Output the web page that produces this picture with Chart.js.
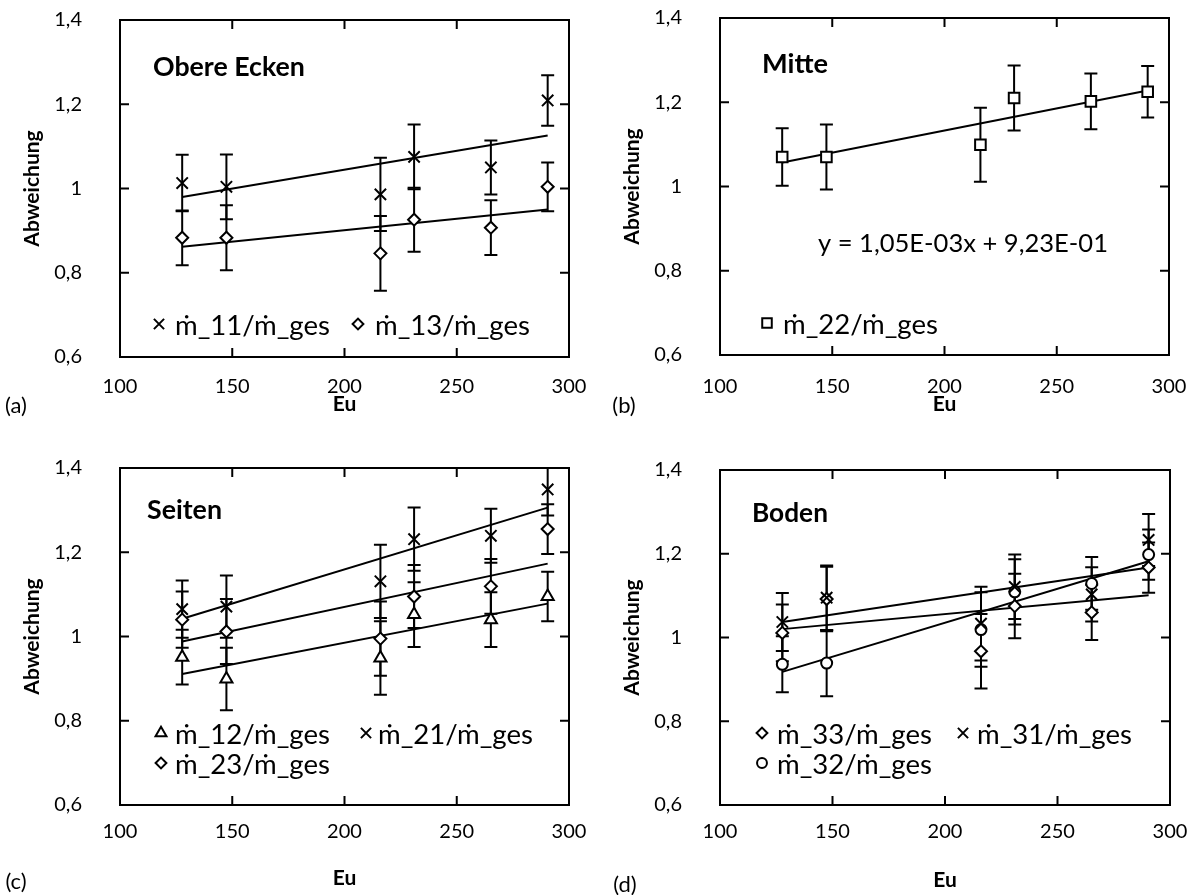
<!DOCTYPE html>
<html><head><meta charset="utf-8">
<script src="https://cdn.jsdelivr.net/npm/chart.js@4.4.1/dist/chart.umd.min.js"></script>
<style>
html,body{margin:0;padding:0;background:#fff;}
#wrap{position:relative;width:1200px;height:895px;overflow:hidden;background:#fff;}
canvas{position:absolute;}
</style></head><body>
<div id="wrap">
<canvas id="pa" width="600" height="447" style="left:0px;top:0px;width:600px;height:447px"></canvas>
<canvas id="pb" width="600" height="447" style="left:600px;top:0px;width:600px;height:447px"></canvas>
<canvas id="pc" width="600" height="448" style="left:0px;top:447px;width:600px;height:448px"></canvas>
<canvas id="pd" width="600" height="448" style="left:600px;top:447px;width:600px;height:448px"></canvas>
</div>
<script>
// ---------------- DATA ----------------
const xTickLabels = ['100', '150', '200', '250', '300'];
const yTickLabels = ['0,6', '0,8', '1', '1,2', '1,4'];
const eu = [127.7, 147.4, 216, 231, 265.2, 290.5];
const trendX = [127.7, 290.5];

// (a) Obere Ecken
const a_m11 = [1.013, 1.004, 0.986, 1.075, 1.050, 1.209];
const a_m11Err = [0.067, 0.077, 0.087, 0.077, 0.064, 0.060];
const a_m13 = [0.883, 0.883, 0.846, 0.926, 0.907, 1.004];
const a_m13Err = [0.065, 0.077, 0.089, 0.076, 0.065, 0.058];
const a_trend11 = [0.980, 1.126];
const a_trend13 = [0.862, 0.950];

// (b) Mitte
const b_m22 = [1.070, 1.070, 1.099, 1.210, 1.202, 1.225];
const b_m22Err = [0.068, 0.077, 0.088, 0.077, 0.066, 0.061];
const b_trend22 = [1.057, 1.228];

// (c) Seiten
const c_m12 = [0.951, 0.899, 0.949, 1.052, 1.040, 1.095];
const c_m12Err = [0.065, 0.074, 0.087, 0.077, 0.065, 0.059];
const c_m21 = [1.065, 1.071, 1.131, 1.231, 1.239, 1.349];
const c_m21Err = [0.068, 0.074, 0.087, 0.075, 0.064, 0.062];
const c_m23 = [1.040, 1.012, 0.995, 1.095, 1.119, 1.255];
const c_m23Err = [0.067, 0.077, 0.088, 0.075, 0.065, 0.059];
const c_trend12 = [0.911, 1.078];
const c_trend21 = [1.042, 1.306];
const c_trend23 = [0.988, 1.173];

// (d) Boden
const d_m33 = [1.011, 1.092, 0.967, 1.075, 1.060, 1.167];
const d_m33Err = [0.068, 0.077, 0.089, 0.077, 0.066, 0.060];
const d_m31 = [1.037, 1.095, 1.033, 1.121, 1.103, 1.233];
const d_m31Err = [0.069, 0.077, 0.088, 0.077, 0.065, 0.062];
const d_m32 = [0.936, 0.939, 1.019, 1.109, 1.129, 1.198];
const d_m32Err = [0.067, 0.079, 0.089, 0.078, 0.063, 0.060];
const d_trend31 = [1.037, 1.167];
const d_trend33 = [1.020, 1.101];
const d_trend32 = [0.918, 1.182];

// ---------------- STYLE / HELPERS ----------------
const FONT = "Lato, 'Noto Sans', 'DejaVu Sans', sans-serif";
Chart.defaults.font.family = FONT;
Chart.defaults.color = '#000';

const MS = { cross: ['crossRot', 8], diamond: ['rectRot', 6], square: ['rect', 7.5], triangle: ['triangle', 7], circle: ['circle', 5.5] };

function pts(vals) { return eu.map((x, i) => ({ x: x, y: vals[i] })); }
function markerDs(label, vals, err, kind) {
  const [style, r] = MS[kind];
  return { label: label, data: pts(vals), err: err, pointStyle: style, pointRadius: r, pointHoverRadius: r,
    pointBorderWidth: 2, pointBorderColor: '#000', pointBackgroundColor: '#fff',
    showLine: false, order: kind === 'cross' ? 0 : 1, marker: kind };
}
function trendDs(vals) {
  return { label: '', data: trendX.map((x, i) => ({ x: x, y: vals[i] })), showLine: true,
    borderColor: '#000', borderWidth: 2, pointRadius: 0, pointHoverRadius: 0, order: 2, isTrend: true };
}

function fitSize(ctx, text, weight, target) {
  ctx.font = weight + ' 100px ' + FONT;
  return 100 * target / ctx.measureText(text).width;
}

const errorBars = {
  id: 'errorBars',
  beforeDatasetsDraw(chart) {
    const { ctx, chartArea: ca, scales } = chart;
    const x = scales.x, y = scales.y;
    ctx.save();
    ctx.beginPath(); ctx.rect(ca.left, ca.top, ca.right - ca.left, ca.bottom - ca.top); ctx.clip();
    ctx.strokeStyle = '#000'; ctx.lineWidth = 2;
    chart.data.datasets.forEach(ds => {
      if (!ds.err) return;
      ds.data.forEach((p, i) => {
        const px = x.getPixelForValue(p.x);
        const y1 = y.getPixelForValue(p.y + ds.err[i]);
        const y2 = y.getPixelForValue(p.y - ds.err[i]);
        ctx.beginPath();
        ctx.moveTo(px, y1); ctx.lineTo(px, y2);
        ctx.moveTo(px - 6.5, y1); ctx.lineTo(px + 6.5, y1);
        ctx.moveTo(px - 6.5, y2); ctx.lineTo(px + 6.5, y2);
        ctx.stroke();
      });
    });
    ctx.restore();
  }
};

const frame = {
  id: 'frame',
  afterDraw(chart) {
    const { ctx, chartArea: ca, scales } = chart;
    const x = scales.x, y = scales.y, L = 9;
    ctx.save();
    ctx.strokeStyle = '#000'; ctx.lineWidth = 2;
    ctx.strokeRect(ca.left, ca.top, ca.right - ca.left, ca.bottom - ca.top);
    ctx.beginPath();
    x.ticks.forEach(t => {
      const px = x.getPixelForValue(t.value);
      ctx.moveTo(px, ca.bottom); ctx.lineTo(px, ca.bottom - L);
      ctx.moveTo(px, ca.top); ctx.lineTo(px, ca.top + L);
    });
    y.ticks.forEach(t => {
      const py = y.getPixelForValue(t.value);
      ctx.moveTo(ca.left, py); ctx.lineTo(ca.left + L, py);
      ctx.moveTo(ca.right, py); ctx.lineTo(ca.right - L, py);
    });
    ctx.stroke();
    ctx.restore();
  }
};

const LEGEND_SAMPLE = '\u1E41_13/\u1E41_ges';

function textPlugin(cfg) {
  return {
    id: 'panelText',
    afterDraw(chart) {
      const ctx = chart.ctx;
      ctx.save();
      ctx.fillStyle = '#000'; ctx.strokeStyle = '#000';
      ctx.textBaseline = 'middle'; ctx.textAlign = 'left';
      let s = fitSize(ctx, cfg.title.text, 'bold', cfg.title.w);
      ctx.font = 'bold ' + s + 'px ' + FONT;
      ctx.fillText(cfg.title.text, cfg.title.x, cfg.title.y);
      if (cfg.eq) {
        s = fitSize(ctx, cfg.eq.text, 'normal', cfg.eq.w);
        ctx.font = 'normal ' + s + 'px ' + FONT;
        ctx.fillText(cfg.eq.text, cfg.eq.x, cfg.eq.y);
      }
      const ls = fitSize(ctx, LEGEND_SAMPLE, 'normal', 155);
      cfg.legend.forEach(it => {
        const ds = chart.data.datasets[it.ds];
        const [style, r] = MS[ds.marker];
        ctx.lineWidth = 2; ctx.fillStyle = '#fff'; ctx.strokeStyle = '#000';
        Chart.helpers.drawPoint(ctx, { pointStyle: style, radius: r * 0.9, rotation: 0, borderWidth: 2 }, it.mx, it.my);
        ctx.fillStyle = '#000';
        ctx.font = 'normal ' + ls + 'px ' + FONT;
        ctx.fillText(ds.label, it.tx, it.my + 2);
      });
      ctx.font = 'normal 22px ' + FONT;
      ctx.textAlign = 'center';
      ctx.fillText(cfg.tag.text, cfg.tag.x, cfg.tag.y);
      ctx.restore();
    }
  };
}

function makePanel(id, datasets, cfg) {
  const ctx = document.getElementById(id).getContext('2d');
  return new Chart(ctx, {
    type: 'scatter',
    data: { datasets: datasets },
    options: {
      responsive: false, animation: false, events: [],
      layout: { autoPadding: false, padding: { left: 0, top: cfg.top, right: cfg.right, bottom: 0 } },
      plugins: { legend: { display: false }, tooltip: { enabled: false } },
      scales: {
        x: {
          type: 'linear', min: 100, max: 300,
          ticks: { stepSize: 50, padding: cfg.xPad, font: { size: 20 }, color: '#000', callback: (v, i) => xTickLabels[i] },
          grid: { display: false, drawTicks: false }, border: { display: false },
          title: { display: true, text: 'Eu', color: '#000', font: { size: 21, weight: 'bold' }, padding: { top: 0, bottom: cfg.euPad } },
          afterFit: (s) => { s.height = cfg.xh; s.paddingLeft = 0; s.paddingRight = 0; s.paddingTop = 0; s.paddingBottom = 0; }
        },
        y: {
          type: 'linear', min: 0.6, max: 1.4,
          ticks: { stepSize: 0.2, padding: 38, font: { size: 20 }, color: '#000', callback: (v, i) => yTickLabels[i] },
          grid: { display: false, drawTicks: false }, border: { display: false },
          title: { display: true, text: 'Abweichung', color: '#000', font: { size: 21, weight: 'bold' }, padding: { top: 20, bottom: 0 } },
          afterFit: (s) => { s.width = 120; s.paddingTop = 0; s.paddingBottom = 0; s.paddingLeft = 0; s.paddingRight = 0; }
        }
      }
    },
    plugins: [errorBars, frame, textPlugin(cfg)]
  });
}

// ---------------- PANELS ----------------
makePanel('pa', [
  markerDs('\u1E41_11/\u1E41_ges', a_m11, a_m11Err, 'cross'),
  markerDs('\u1E41_13/\u1E41_ges', a_m13, a_m13Err, 'diamond'),
  trendDs(a_trend11), trendDs(a_trend13)
], {
  top: 20, right: 31, xh: 90, euPad: 30, xPad: 18,
  title: { text: 'Obere Ecken', x: 153, y: 67, w: 152 },
  legend: [{ ds: 0, mx: 159, my: 324, tx: 175 }, { ds: 1, mx: 358, my: 324, tx: 375 }],
  tag: { text: '(a)', x: 16, y: 406 }
});

makePanel('pb', [
  markerDs('\u1E41_22/\u1E41_ges', b_m22, b_m22Err, 'square'),
  trendDs(b_trend22)
], {
  top: 18, right: 31, xh: 92, euPad: 30, xPad: 20,
  title: { text: 'Mitte', x: 162, y: 64, w: 66 },
  eq: { text: 'y = 1,05E-03x + 9,23E-01', x: 218, y: 244, w: 290 },
  legend: [{ ds: 0, mx: 167, my: 323, tx: 183 }],
  tag: { text: '(b)', x: 24, y: 406 }
});

makePanel('pc', [
  markerDs('\u1E41_12/\u1E41_ges', c_m12, c_m12Err, 'triangle'),
  markerDs('\u1E41_21/\u1E41_ges', c_m21, c_m21Err, 'cross'),
  markerDs('\u1E41_23/\u1E41_ges', c_m23, c_m23Err, 'diamond'),
  trendDs(c_trend12), trendDs(c_trend21), trendDs(c_trend23)
], {
  top: 21, right: 31, xh: 90, euPad: 4, xPad: 15,
  title: { text: 'Seiten', x: 147, y: 63, w: 75 },
  legend: [{ ds: 0, mx: 161, my: 286, tx: 175 }, { ds: 1, mx: 366, my: 286, tx: 378 }, { ds: 2, mx: 161, my: 316, tx: 175 }],
  tag: { text: '(c)', x: 16, y: 435 }
});

makePanel('pd', [
  markerDs('\u1E41_33/\u1E41_ges', d_m33, d_m33Err, 'diamond'),
  markerDs('\u1E41_31/\u1E41_ges', d_m31, d_m31Err, 'cross'),
  markerDs('\u1E41_32/\u1E41_ges', d_m32, d_m32Err, 'circle'),
  trendDs(d_trend31), trendDs(d_trend33), trendDs(d_trend32)
], {
  top: 23, right: 30, xh: 90, euPad: 2, xPad: 15,
  title: { text: 'Boden', x: 152, y: 67, w: 76 },
  legend: [{ ds: 0, mx: 162, my: 286, tx: 177 }, { ds: 1, mx: 363, my: 286, tx: 377 }, { ds: 2, mx: 162, my: 316, tx: 177 }],
  tag: { text: '(d)', x: 25, y: 438 }
});
</script>
</body></html>
